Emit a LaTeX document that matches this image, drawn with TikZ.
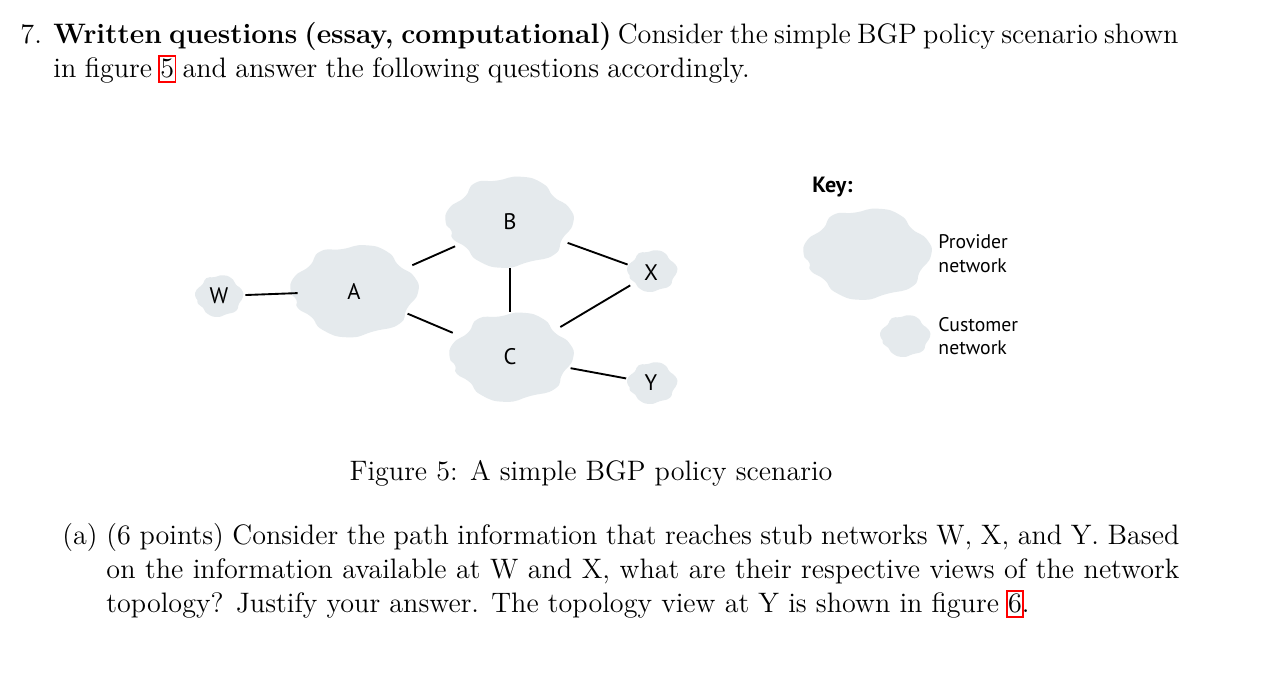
\documentclass[tikz,border=0pt]{standalone}
\usepackage{fontspec}
\newfontfamily\lblfont{PT Sans}
\usetikzlibrary{shapes.geometric}
\definecolor{cloudc}{RGB}{229,234,237}
\newcommand\lnk[1]{\leavevmode\setbox0=\hbox{#1}\rlap{\kern-0.9pt\textcolor{red}{\setlength\fboxsep{0.2pt}\setlength\fboxrule{0.7pt}\fbox{\vrule width 0pt height 8.5pt depth 1.7pt\hbox to \wd0{}}}}#1}
\newcommand\blob[4]{\fill[cloudc, shift={(#1,#2)}, xscale=#3, yscale=#4] plot[smooth cycle, tension=0.95] coordinates {(180:0.99) (198:0.98) (218:0.88) (238:1) (258:0.92) (280:1) (302:0.99) (322:0.89) (342:0.99) (2:1) (24:0.91) (45:1) (70:0.92) (95:1) (120:0.97) (140:0.87) (157:0.95) (168:0.92)};}
\tikzset{
  net/.style={ellipse, inner sep=0pt, draw=none, font=\lblfont\fontsize{9.6}{11.5}\selectfont},
  keytxt/.style={font=\lblfont\fontsize{8.4}{9.8}\selectfont, inner sep=0pt, anchor=base west},
  txt/.style={font=\fontsize{12}{14.5}\selectfont, inner sep=0pt, anchor=base west},
  link/.style={line width=0.8pt, black}
}
\begin{document}
\begin{tikzpicture}[x=0.4265pt,y=-0.4265pt]
\useasboundingbox (0,0) rectangle (1268,674);
\fill[white] (0,0) rectangle (1268,674);
% question text
\node[txt] (n7) at (20,43) {7.};
\node[txt] (q1) at (53,43) {\makebox[479.8pt][s]{\textbf{Written questions (essay, computational)} Consider the simple BGP policy scenario shown}};
\node[txt] (q2) at (53,77) {\makebox[297pt][s]{in figure \lnk{5} and answer the following questions accordingly.}};
% clouds
\blob{219}{296}{24}{21}
\blob{354}{291}{64}{46.5}
\blob{509}{222}{64}{46}
\blob{511}{357}{62}{45}
\blob{652}{271}{25}{21}
\blob{652}{383}{25}{21}
\node[net, minimum width=48*0.4265pt, minimum height=42*0.4265pt] (W) at (219,296) {W};
\node[net, minimum width=128*0.4265pt, minimum height=93*0.4265pt] (A) at (354,291) {A};
\node[net, minimum width=128*0.4265pt, minimum height=92*0.4265pt] (B) at (510,222) {B};
\node[net, minimum width=124*0.4265pt, minimum height=90*0.4265pt] (C) at (510,357) {C};
\node[net, minimum width=50*0.4265pt, minimum height=42*0.4265pt] (X) at (651,273) {X};
\node[net, minimum width=50*0.4265pt, minimum height=42*0.4265pt] (Y) at (651,383) {Y};
% connectors
\draw[link, shorten <=0.8pt, shorten >=-3.4pt] (W) -- (A);
\draw[link, shorten <=1.5pt, shorten >=0pt] (A) -- (B);
\draw[link, shorten <=-1pt, shorten >=1.5pt] (A) -- (C);
\draw[link] (B) -- (C);
\draw[link] (B) -- (X);
\draw[link, shorten <=1pt] (C) -- (X);
\draw[link] (C) -- (Y);
% key
\node[font=\lblfont\bfseries\fontsize{9.4}{11}\selectfont, inner sep=0pt, anchor=base west] (key) at (812,192) {Key:};
\blob{867}{254}{64}{46}
\blob{905}{336}{25}{21}
\node[keytxt] (kP1) at (938,248) {Provider};
\node[keytxt] (kP2) at (938,272) {network};
\node[keytxt] (kC1) at (938,331) {Customer};
\node[keytxt] (kC2) at (938,354) {network};
% caption
\node[font=\fontsize{12}{14.5}\selectfont, inner sep=0pt, anchor=base] (cap) at (591,480) {Figure 5: A simple BGP policy scenario};
% part (a)
\node[txt] (pa) at (62,544) {(a)};
\node[txt] (a1) at (106,544) {\makebox[457.6pt][s]{(6 points) Consider the path information that reaches stub networks W, X, and Y. Based}};
\node[txt] (a2) at (106,578) {\makebox[457.6pt][s]{on the information available at W and X, what are their respective views of the network}};
\node[txt] (a3) at (106,612) {topology? Justify your answer. The topology view at Y is shown in figure \lnk{6}.};
\end{tikzpicture}
\end{document}
